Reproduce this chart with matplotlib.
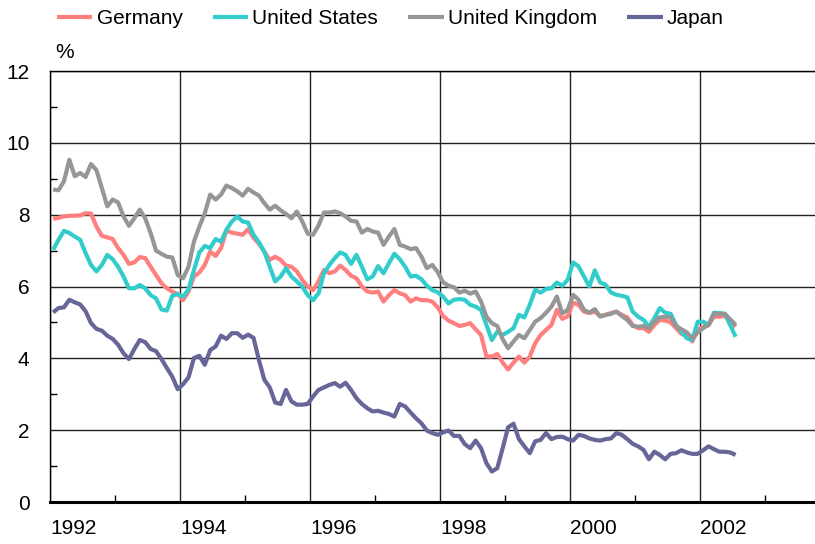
import matplotlib
matplotlib.use("Agg")
import matplotlib.pyplot as plt
import numpy as np
from matplotlib.ticker import MultipleLocator

plt.rcParams['font.family'] = ['Liberation Sans', 'DejaVu Sans']

# ------------------------- Data (monthly, Jan 1992 - Jul 2002) -------------------------

start_year = 1992
germany = [7.89, 7.91, 7.95, 7.97, 7.97, 7.98, 8.04, 8.03, 7.67, 7.41, 7.37, 7.32,
           7.07, 6.88, 6.63, 6.67, 6.82, 6.79, 6.55, 6.32, 6.09, 5.95, 5.86, 5.79,
           5.62, 5.86, 6.28, 6.39, 6.60, 6.97, 6.85, 7.07, 7.56, 7.50, 7.47, 7.44,
           7.60, 7.35, 7.19, 6.97, 6.74, 6.83, 6.74, 6.58, 6.55, 6.42, 6.18, 6.00,
           5.90, 6.14, 6.46, 6.37, 6.42, 6.58, 6.46, 6.30, 6.23, 6.00, 5.86, 5.83,
           5.86, 5.58, 5.76, 5.90, 5.81, 5.76, 5.58, 5.67, 5.62, 5.62, 5.58, 5.42,
           5.18, 5.05, 4.98, 4.90, 4.93, 4.98, 4.81, 4.65, 4.05, 4.05, 4.12, 3.88,
           3.69, 3.88, 4.05, 3.88, 4.05, 4.42, 4.65, 4.79, 4.93, 5.35, 5.10, 5.17,
           5.55, 5.49, 5.30, 5.26, 5.30, 5.18, 5.21, 5.26, 5.30, 5.21, 5.14, 4.93,
           4.84, 4.84, 4.74, 4.93, 5.07, 5.05, 5.00, 4.84, 4.68, 4.65, 4.47, 4.79,
           4.88, 4.93, 5.16, 5.16, 5.18, 5.07, 4.88]
united_states = [7.02, 7.30, 7.55, 7.49, 7.39, 7.30, 6.93, 6.60, 6.42, 6.60, 6.88, 6.76,
                 6.55, 6.28, 5.95, 5.95, 6.04, 5.95, 5.76, 5.67, 5.36, 5.33, 5.74, 5.79,
                 5.72, 5.92, 6.46, 6.95, 7.13, 7.07, 7.32, 7.25, 7.58, 7.81, 7.95, 7.81,
                 7.78, 7.44, 7.23, 6.97, 6.55, 6.14, 6.28, 6.51, 6.28, 6.14, 6.00, 5.76,
                 5.62, 5.81, 6.37, 6.60, 6.79, 6.95, 6.88, 6.63, 6.88, 6.55, 6.20, 6.28,
                 6.57, 6.37, 6.65, 6.91, 6.76, 6.55, 6.28, 6.30, 6.20, 6.02, 5.90, 5.84,
                 5.72, 5.53, 5.63, 5.65, 5.63, 5.49, 5.44, 5.35, 4.93, 4.51, 4.74, 4.65,
                 4.74, 4.84, 5.21, 5.14, 5.49, 5.91, 5.83, 5.93, 5.95, 6.11, 6.02, 6.19,
                 6.67, 6.56, 6.28, 6.00, 6.45, 6.11, 6.05, 5.83, 5.77, 5.74, 5.70, 5.30,
                 5.16, 5.07, 4.87, 5.12, 5.40, 5.27, 5.24, 4.93, 4.74, 4.56, 4.51, 5.02,
                 5.02, 4.93, 5.27, 5.26, 5.24, 4.93, 4.60]
united_kingdom = [8.70, 8.68, 8.93, 9.53, 9.07, 9.16, 9.05, 9.41, 9.24, 8.74, 8.23, 8.42,
                  8.34, 7.95, 7.69, 7.90, 8.14, 7.90, 7.49, 7.00, 6.91, 6.83, 6.81, 6.32,
                  6.23, 6.55, 7.25, 7.67, 8.04, 8.56, 8.42, 8.56, 8.81, 8.74, 8.65, 8.53,
                  8.72, 8.62, 8.53, 8.32, 8.14, 8.25, 8.12, 8.02, 7.90, 8.09, 7.81, 7.47,
                  7.44, 7.70, 8.06, 8.06, 8.09, 8.04, 7.95, 7.83, 7.81, 7.50, 7.60, 7.53,
                  7.50, 7.16, 7.39, 7.60, 7.16, 7.11, 7.04, 7.07, 6.83, 6.51, 6.60, 6.40,
                  6.12, 6.02, 5.98, 5.83, 5.88, 5.80, 5.86, 5.58, 5.16, 4.98, 4.90, 4.53,
                  4.28, 4.47, 4.65, 4.56, 4.79, 5.02, 5.12, 5.27, 5.44, 5.72, 5.25, 5.35,
                  5.77, 5.63, 5.35, 5.27, 5.37, 5.16, 5.21, 5.24, 5.30, 5.18, 5.07, 4.90,
                  4.88, 4.90, 4.84, 5.02, 5.14, 5.16, 5.14, 4.90, 4.81, 4.72, 4.56, 4.72,
                  4.84, 4.93, 5.24, 5.24, 5.24, 5.09, 4.93]
japan = [5.28, 5.40, 5.42, 5.63, 5.56, 5.50, 5.31, 4.98, 4.82, 4.77, 4.63, 4.54,
         4.38, 4.14, 3.98, 4.26, 4.51, 4.45, 4.26, 4.20, 3.98, 3.73, 3.49, 3.14,
         3.28, 3.47, 4.01, 4.07, 3.82, 4.23, 4.33, 4.63, 4.54, 4.70, 4.70, 4.57,
         4.66, 4.57, 3.95, 3.40, 3.19, 2.77, 2.73, 3.12, 2.80, 2.71, 2.71, 2.73,
         2.94, 3.12, 3.19, 3.26, 3.31, 3.21, 3.32, 3.12, 2.89, 2.73, 2.61, 2.52,
         2.54, 2.49, 2.45, 2.38, 2.73, 2.66, 2.49, 2.33, 2.19, 1.99, 1.92, 1.87,
         1.94, 1.99, 1.84, 1.84, 1.61, 1.50, 1.71, 1.50, 1.08, 0.85, 0.94, 1.50,
         2.08, 2.18, 1.75, 1.55, 1.36, 1.69, 1.73, 1.92, 1.75, 1.81, 1.82, 1.75,
         1.71, 1.87, 1.84, 1.77, 1.73, 1.71, 1.75, 1.77, 1.92, 1.87, 1.75, 1.62,
         1.55, 1.45, 1.19, 1.40, 1.31, 1.19, 1.34, 1.36, 1.44, 1.38, 1.34, 1.34,
         1.44, 1.55, 1.47, 1.40, 1.40, 1.38, 1.31]

series_names = ["Germany", "United States", "United Kingdom", "Japan"]
series_colors = ["#FF7F7F", "#33CCCC", "#969696", "#666699"]
year_labels = [1992, 1994, 1996, 1998, 2000, 2002]

# month midpoints
months = start_year + (np.arange(len(japan)) + 0.5) / 12.0

# ------------------------- Plot -------------------------

fig = plt.figure(figsize=(8.15, 5.44), dpi=100)
ax = fig.add_axes([50.4 / 815, 42 / 544, 12 * 65 / 815, 431 / 544])

for vals, name, col in zip([germany, united_states, united_kingdom, japan],
                           series_names, series_colors):
    ax.plot(months, vals, color=col, lw=3.0, label=name,
            solid_joinstyle="round", solid_capstyle="butt", zorder=3)

ax.set_xlim(1992, 2004)
ax.set_ylim(0, 12)

ax.set_yticks(range(0, 13, 2))
ax.yaxis.set_minor_locator(MultipleLocator(1))
ax.set_xticks(range(1992, 2005, 2))
ax.set_xticklabels([str(y) for y in year_labels] + [""])
ax.xaxis.set_minor_locator(MultipleLocator(1))

ax.grid(True, which="major", color="#222222", lw=1.0, zorder=1)
ax.tick_params(axis="both", which="major", length=0, labelsize=15, colors="black")
ax.tick_params(axis="x", which="major", pad=12)
ax.tick_params(axis="y", which="major", pad=15)
ax.tick_params(axis="both", which="minor", direction="in", length=5, width=1, color="black")
for lab in ax.get_xticklabels():
    lab.set_horizontalalignment("left")

ax.spines["right"].set_visible(False)
ax.spines["top"].set_linewidth(1.0)
ax.spines["left"].set_linewidth(1.0)
ax.spines["bottom"].set_linewidth(2.2)
ax.spines["bottom"].set_zorder(4)

fig.text(55 / 815, 1 - 53 / 544, "%", fontsize=15, ha="left", va="center")

fig.legend(loc="upper left", bbox_to_anchor=(57 / 815, 1 - 9 / 544), ncol=4,
           frameon=False, fontsize=15, handlelength=1.7, handletextpad=0.2,
           columnspacing=1.45, borderpad=0, borderaxespad=0)

fig.savefig("out.png", dpi=100)
